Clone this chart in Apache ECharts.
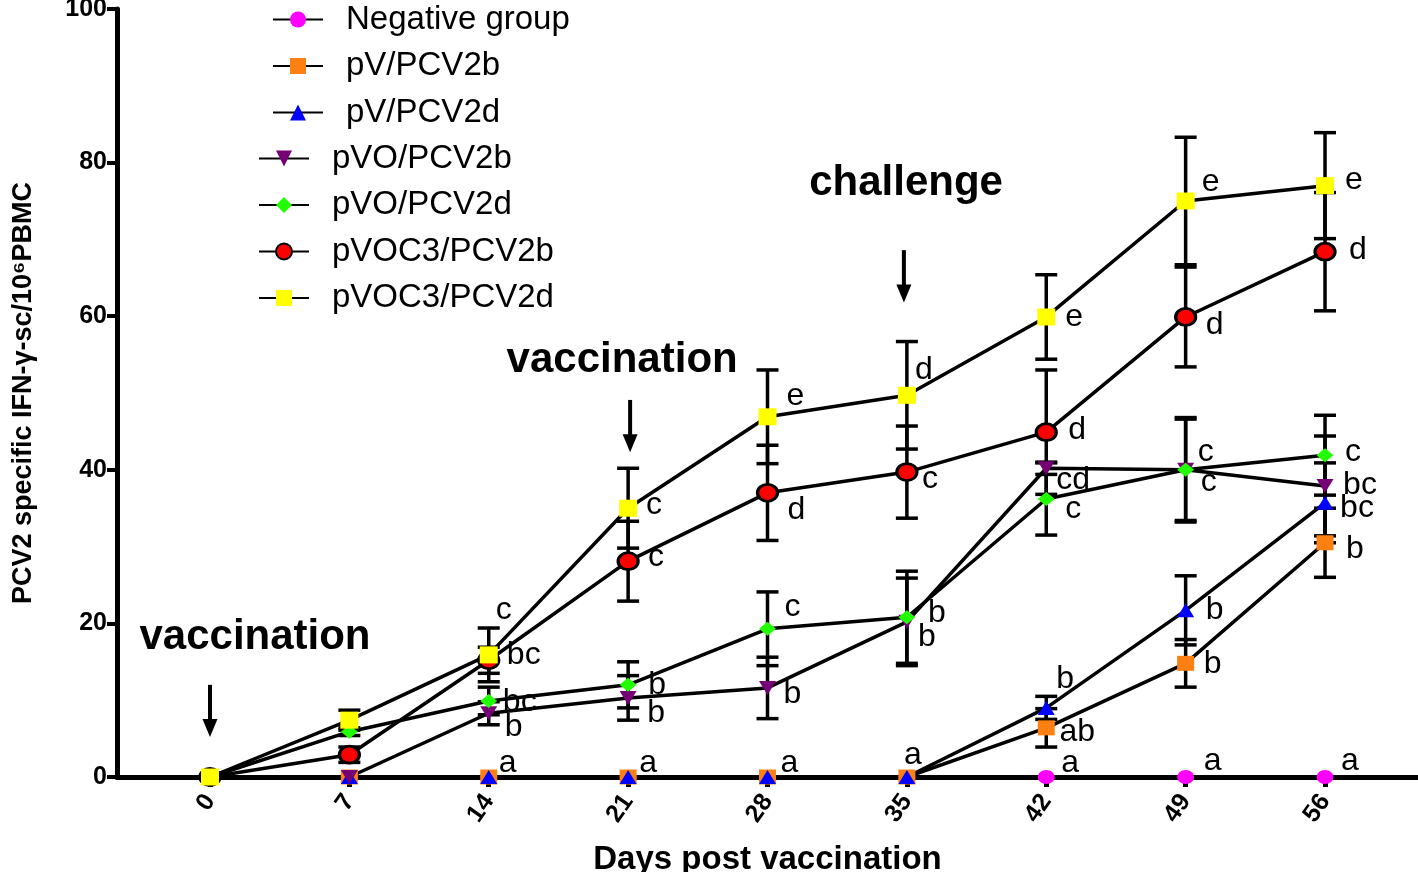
<!DOCTYPE html>
<html><head><meta charset="utf-8">
<script src="https://cdn.jsdelivr.net/npm/echarts@6/dist/echarts.min.js"></script>
<style>html,body{margin:0;padding:0;background:#fff}#c{width:1418px;height:872px}</style>
</head><body><div id="c"></div>
<script>
// ---------- data ----------
const days = [0, 7, 14, 21, 28, 35, 42, 49, 56];
const groupNames = ['Negative group', 'pV/PCV2b', 'pV/PCV2d', 'pVO/PCV2b', 'pVO/PCV2d', 'pVOC3/PCV2b', 'pVOC3/PCV2d'];

const negMean = [0, 0, 0, 0, 0, 0, 0, 0, 0];
const negErr = [0, 0, 0, 0, 0, 0, 0, 0, 0];
const negLetters = ['', '', '', '', '', '', 'a', 'a', 'a'];

const pvbMean = [0, 0, 0, 0, 0, 0, 6.4, 14.8, 30.5];
const pvbErr = [0, 0, 0, 0, 0, 0, 2.5, 3.1, 4.5];
const pvbLetters = ['', '', '', '', '', '', 'ab', 'b', 'b'];

const pvdMean = [0, 0, 0, 0, 0, 0, 9.0, 21.7, 35.7];
const pvdErr = [0, 0, 0, 0, 0, 0, 1.5, 4.5, 5.2];
const pvdLetters = ['', '', 'a', 'a', 'a', 'a', 'b', 'b', 'bc'];

const pvobMean = [0, 0, 8.3, 10.3, 11.6, 20.2, 40.2, 40.0, 37.9];
const pvobErr = [0, 0, 1.5, 2.9, 4.0, 5.7, 0.8, 6.6, 6.5];
const pvobLetters = ['', '', 'b', 'b', 'b', 'b', 'cd', 'c', 'bc'];

const pvodMean = [0, 5.9, 9.9, 12.0, 19.3, 20.8, 36.2, 40.0, 41.9];
const pvodErr = [0, 0.5, 1.8, 3.0, 4.8, 6.0, 4.7, 6.8, 5.2];
const pvodLetters = ['', '', 'bc', 'b', 'c', 'b', 'c', 'c', 'c'];

const pvocbMean = [0, 2.9, 15.2, 28.1, 37.0, 39.7, 44.9, 59.9, 68.4];
const pvocbErr = [0, 1.0, 1.7, 5.2, 6.2, 6.0, 8.1, 6.5, 7.7];
const pvocbLetters = ['', '', 'c', 'c', 'd', 'c', 'd', 'd', 'd'];

const pvocdMean = [0, 7.4, 15.9, 35.0, 46.9, 49.7, 59.9, 75.0, 77.0];
const pvocdErr = [0, 1.3, 3.5, 5.2, 6.1, 7.0, 5.5, 8.3, 6.9];
const pvocdLetters = ['', '', 'bc', 'c', 'e', 'd', 'e', 'e', 'e'];

const yTicks = [0, 20, 40, 60, 80, 100];

const annotationTexts = ['vaccination', 'vaccination', 'challenge'];
const annotationX = [2.26, 20.7, 34.96];
const annotationY = [18.2, 54.3, 77.3];
const arrowX = [0, 21.1, 34.85];
const arrowTop = [12.0, 49.1, 68.6];
const arrowTip = [5.2, 42.3, 61.8];

// ---------- layout / style (not data) ----------
const means = [negMean, pvbMean, pvdMean, pvobMean, pvodMean, pvocbMean, pvocdMean];
const errs = [negErr, pvbErr, pvdErr, pvobErr, pvodErr, pvocbErr, pvocdErr];
const letters = [negLetters, pvbLetters, pvdLetters, pvobLetters, pvodLetters, pvocbLetters, pvocdLetters];

const styles = [
  {symbol: 'circle', size: [17, 14], color: '#FF00FF'},
  {symbol: 'rect', size: [17, 15], color: '#FF8012'},
  {symbol: 'triangle', size: [17, 14], color: '#0000FF'},
  {symbol: 'triangle', size: [17, 14], color: '#760076', rotate: 180},
  {symbol: 'diamond', size: [17, 14], color: '#22FF00'},
  {symbol: 'circle', size: [20, 17], color: '#FF0000', border: 3},
  {symbol: 'rect', size: [18, 17], color: '#FFFF00'}
];

// letter label offsets (px, relative to marker centre)
const letterOffsets = [
  [null, null, null, null, null, null, [24, -14], [27, -16], [25, -16]],
  [null, null, null, null, null, null, [31, 4], [27, 1], [30, 6]],
  [null, null, [19, -14], [20, -14], [22, -14], [6, -22], [19, -29], [29, 0], [32, 5]],
  [null, null, [25, 14], [28, 15], [25, 6], [20, 15], [27, 12], [23, 12], [35, -1]],
  [null, null, [31, 1], [29, 0], [25, -22], [30, -4], [27, 10], [20, -18], [28, -3]],
  [null, null, [15, -50], [28, -4], [29, 17], [23, 7], [31, -2], [29, 8], [33, -2]],
  [null, null, [35, 0], [26, -3], [28, -21], [17, -25], [28, 0], [25, -19], [29, -5]]
];

const chart = echarts.init(document.getElementById('c'), null, {renderer: 'canvas'});

const lineSeries = groupNames.map((name, g) => {
  const st = styles[g];
  return {
    name: name,
    type: 'line',
    z: 3,
    symbol: st.symbol,
    symbolSize: st.size,
    symbolRotate: st.rotate || 0,
    showAllSymbol: true,
    lineStyle: {color: '#000', width: 3.5},
    itemStyle: {color: st.color, borderColor: '#000', borderWidth: st.border || 0, opacity: 1},
    emphasis: {disabled: true},
    label: {
      show: true,
      position: 'inside',
      fontFamily: 'Liberation Sans',
      fontSize: 32,
      color: '#000',
      align: 'center',
      verticalAlign: 'middle'
    },
    data: days.map((d, i) => {
      const letter = letters[g][i];
      return {
        value: [d, means[g][i]],
        label: letter ? {show: true, formatter: letter, offset: letterOffsets[g][i] || [25, 0]} : {show: false}
      };
    })
  };
});

const errData = [];
groupNames.forEach((n, g) => {
  days.forEach((d, i) => {
    const e = errs[g][i];
    if (e > 0) errData.push([d, means[g][i] - e, means[g][i] + e]);
  });
});

const errSeries = {
  type: 'custom',
  z: 2,
  silent: true,
  renderItem: function (params, api) {
    const x = api.value(0);
    const lo = api.coord([x, api.value(1)]);
    const hi = api.coord([x, api.value(2)]);
    const hw = 11;
    const st = {stroke: '#000', lineWidth: 3.5};
    return {
      type: 'group',
      children: [
        {type: 'line', shape: {x1: lo[0], y1: lo[1], x2: hi[0], y2: hi[1]}, style: st},
        {type: 'line', shape: {x1: lo[0] - hw, y1: lo[1], x2: lo[0] + hw, y2: lo[1]}, style: st},
        {type: 'line', shape: {x1: hi[0] - hw, y1: hi[1], x2: hi[0] + hw, y2: hi[1]}, style: st}
      ]
    };
  },
  encode: {x: 0, y: [1, 2]},
  data: errData
};

const arrowSeries = {
  type: 'custom',
  z: 5,
  silent: true,
  renderItem: function (params, api) {
    const x = api.value(0);
    const top = api.coord([x, api.value(1)]);
    const tip = api.coord([x, api.value(2)]);
    const headH = 18, headW = 15;
    return {
      type: 'group',
      children: [
        {type: 'line', shape: {x1: top[0], y1: top[1], x2: tip[0], y2: tip[1] - headH + 2}, style: {stroke: '#000', lineWidth: 4}},
        {type: 'polygon', shape: {points: [[tip[0] - headW / 2, tip[1] - headH], [tip[0] + headW / 2, tip[1] - headH], [tip[0], tip[1]]]}, style: {fill: '#000'}}
      ]
    };
  },
  encode: {x: 0, y: [1, 2]},
  data: arrowX.map((x, i) => [x, arrowTop[i], arrowTip[i]])
};

const annSeries = {
  type: 'scatter',
  z: 5,
  silent: true,
  symbolSize: 0,
  itemStyle: {opacity: 1},
  label: {
    show: true,
    position: 'inside',
    formatter: p => p.name,
    fontFamily: 'Liberation Sans',
    fontWeight: 'bold',
    fontSize: 42,
    color: '#000',
    opacity: 1
  },
  data: annotationTexts.map((t, i) => ({name: t, value: [annotationX[i], annotationY[i]]}))
};

const legendCommon = {
  orient: 'vertical',
  padding: 0,
  itemWidth: 50,
  itemHeight: 20,
  itemGap: 13.5,
  selectedMode: false,
  textStyle: {fontFamily: 'Liberation Sans', fontSize: 33, color: '#000', padding: [0, 0, 0, 18]}
};

const option = {
  animation: false,
  backgroundColor: '#fff',
  grid: {left: 117, right: 0, top: 9, bottom: 95, containLabel: false, outerBoundsMode: 'none'},
  legend: [
    Object.assign({}, legendCommon, {data: groupNames.slice(0, 3), left: 272, top: 3}),
    Object.assign({}, legendCommon, {data: groupNames.slice(3), left: 258, top: 142})
  ],
  xAxis: {
    type: 'value',
    min: -4.67,
    max: 60.67,
    splitLine: {show: false},
    axisLine: {show: true, onZero: false, lineStyle: {color: '#000', width: 5}},
    axisTick: {show: true, customValues: days, length: 10, lineStyle: {color: '#000', width: 5}},
    axisLabel: {
      customValues: days,
      rotate: 55,
      margin: 20,
      fontFamily: 'Liberation Sans',
      fontWeight: 'bold',
      fontSize: 25,
      color: '#000'
    },
    name: 'Days post vaccination',
    nameLocation: 'middle',
    nameGap: 66,
    nameTextStyle: {fontFamily: 'Liberation Sans', fontWeight: 'bold', fontSize: 33, color: '#000'}
  },
  yAxis: {
    type: 'value',
    min: 0,
    max: 100,
    interval: 20,
    splitLine: {show: false},
    axisLine: {show: true, onZero: false, lineStyle: {color: '#000', width: 5}},
    axisTick: {show: true, length: 10, lineStyle: {color: '#000', width: 4}},
    axisLabel: {
      customValues: yTicks,
      margin: 10,
      fontFamily: 'Liberation Sans',
      fontWeight: 'bold',
      fontSize: 25,
      color: '#000'
    },
    name: 'PCV2 specific IFN-\u03b3-sc/10\u2076PBMC',
    nameLocation: 'middle',
    nameRotate: 90,
    nameGap: 80,
    nameTextStyle: {fontFamily: 'Liberation Sans', fontWeight: 'bold', fontSize: 27, color: '#000'}
  },
  series: [errSeries].concat(lineSeries).concat([arrowSeries, annSeries])
};
chart.setOption(option);
</script>
</body></html>
